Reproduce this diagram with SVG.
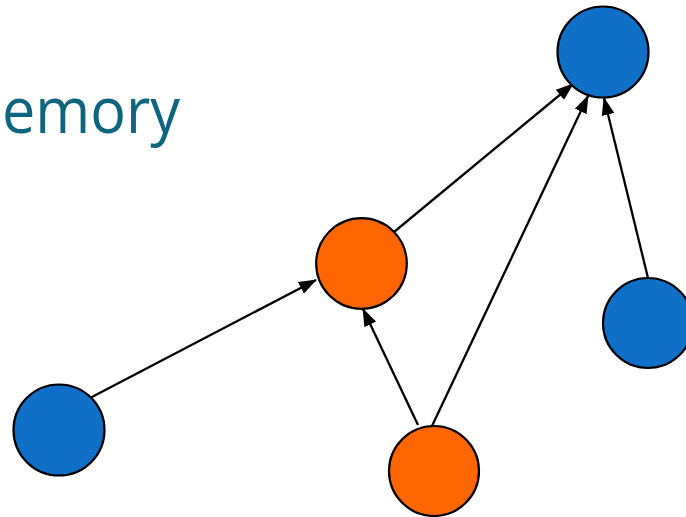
<svg xmlns="http://www.w3.org/2000/svg" width="686" height="517" viewBox="0 0 686 517">
<defs>
<style>
.blue{fill:#1070c8;stroke:#000;stroke-width:2.2}
.orange{fill:#ff6600;stroke:#000;stroke-width:2.2}
.edge{stroke:#000;stroke-width:2.3;fill:none;marker-end:url(#ah)}
.title{font-family:"Open Sans","Liberation Sans",sans-serif;font-size:64px;fill:#0e6580}
</style>
<marker id="ah" viewBox="0 0 18 13" refX="17" refY="6.5" markerWidth="18" markerHeight="13" markerUnits="userSpaceOnUse" orient="auto">
<path d="M0,0 L18,6.5 L0,13 Z" fill="#000"/>
</marker>
</defs>
<rect width="686" height="517" fill="#fff"/>
<text class="title" x="2" y="133" textLength="178" lengthAdjust="spacingAndGlyphs">emory</text>
<g id="connectors">
<line class="edge" x1="90" y1="398" x2="316" y2="280"/>
<line class="edge" x1="394" y1="232" x2="573" y2="84"/>
<line class="edge" x1="418" y1="425" x2="363" y2="309"/>
<line class="edge" x1="432" y1="426" x2="588" y2="96"/>
<line class="edge" x1="648" y1="278" x2="604" y2="98"/>
</g>
<g id="n1"><circle class="blue" cx="603" cy="52" r="45.5"/></g>
<g id="n2"><circle class="orange" cx="361.5" cy="263.5" r="45.3"/></g>
<g id="n3"><circle class="blue" cx="59" cy="430" r="45.5"/></g>
<g id="n4"><circle class="blue" cx="648" cy="323" r="45"/></g>
<g id="n5"><circle class="orange" cx="434" cy="471" r="45"/></g>
</svg>
